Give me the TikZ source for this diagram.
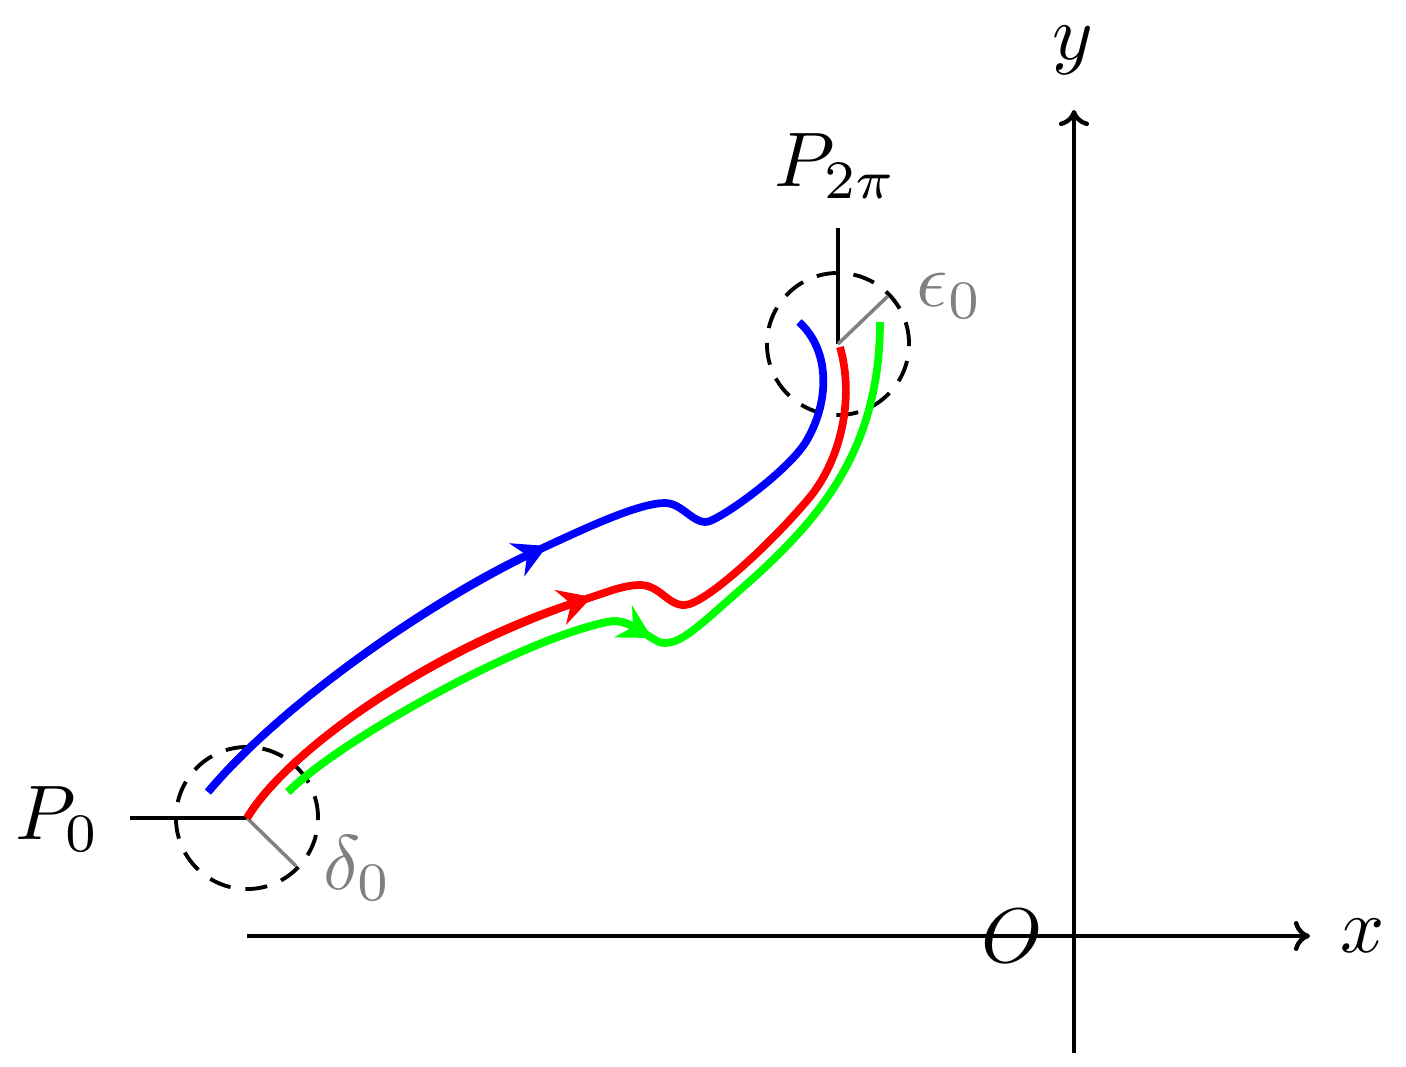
\documentclass[tikz,border=0pt]{standalone}
\usetikzlibrary{arrows.meta}
\begin{document}
\begin{tikzpicture}[x=0.01cm,y=-0.01cm,
  axis/.style={line width=1.25pt,-{To[length=1.6mm,width=3mm]}},
  blk/.style={line width=1.1pt},
  rad/.style={line width=1pt,gray},
  dcirc/.style={draw,circle,line width=1.1pt,dash pattern=on 2.2mm off 1.5mm,minimum size=1.42cm,inner sep=0pt},
  lab/.style={scale=2.2,inner sep=0pt},
  curve/.style={line width=2.2pt},
  arr/.style={curve,-{Stealth[length=3.3mm,width=3.6mm,inset=1.1mm]}}
]
\useasboundingbox (0,0) rectangle (1406,1067);
% points
\coordinate (O) at (1074,936);
\coordinate (xs) at (247,936);
\coordinate (xe) at (1310,936);
\coordinate (ys) at (1074,1053);
\coordinate (ye) at (1074,110);
\coordinate (P0) at (247,818);
\coordinate (P0l) at (130,818);
\coordinate (P2) at (838,344);
\coordinate (P2t) at (838,228);
\coordinate (d0) at (296,866);
\coordinate (e0) at (888,296);
% axes
\draw[axis] (xs) -- (xe);
\draw[axis] (ys) -- (ye);
\node[lab] (xl) at (1363,936) {$x$};
\node[lab] (yl) at (1073,50) {$y$};
\node[lab] (Ol) at (1012,936) {$O$};
% circles
\node[dcirc] (c0) at (P0) {};
\node[dcirc] (c2) at (P2) {};
\draw[blk] (P0l) -- (P0);
\draw[blk] (P2t) -- (P2);
\draw[rad] (P0) -- (d0);
\draw[rad] (P2) -- (e0);
\node[lab] (P0lab) at (58,819) {$P_0$};
\node[lab] (P2lab) at (836,166) {$P_{2\pi}$};
\node[lab,text=gray] (dl) at (358,868) {$\delta_0$};
\node[lab,text=gray] (el) at (950,296) {$\epsilon_0$};
% blue curve
\coordinate (b0) at (208,792);
\coordinate (bA) at (547,546);
\coordinate (b1) at (799,322);
\draw[blue,curve] (b0) .. controls (285,700) and (440,595) .. (bA)
  .. controls (590,526) and (640,503) .. (665,503)
  .. controls (683,503) and (695,527) .. (710,521)
  .. controls (730,513) and (791,468) .. (807,440)
  .. controls (830,400) and (830,350) .. (b1);
\draw[blue,arr] (b0) .. controls (285,700) and (440,595) .. (bA);
% red curve
\coordinate (rA) at (592,597);
\coordinate (r1) at (840,347);
\draw[red,curve] (P0) .. controls (288,750) and (430,650) .. (rA)
  .. controls (610,591) and (625,585) .. (640,585)
  .. controls (660,585) and (668,606) .. (685,605)
  .. controls (705,604) and (770,545) .. (810,497)
  .. controls (840,460) and (855,400) .. (r1);
\draw[red,arr] (P0) .. controls (288,750) and (430,650) .. (rA);
% green curve
\coordinate (g0) at (288,792);
\coordinate (gA) at (652,638);
\coordinate (g1) at (880,322);
\draw[green,curve] (g0) .. controls (340,740) and (520,640) .. (607,622)
  .. controls (625,618) and (638,630) .. (gA)
  .. controls (657,641) and (659,643) .. (665,643)
  .. controls (682,643) and (700,625) .. (740,590)
  .. controls (820,520) and (880,450) .. (g1);
\draw[green,arr] (g0) .. controls (340,740) and (520,640) .. (607,622)
  .. controls (625,618) and (638,630) .. (gA);
\end{tikzpicture}
\end{document}
